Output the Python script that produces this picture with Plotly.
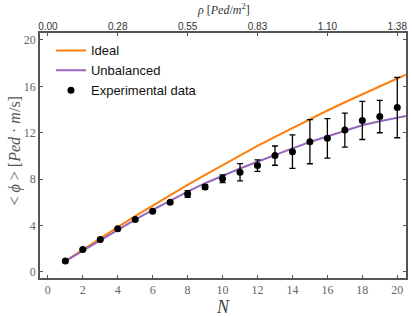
import plotly.graph_objects as go

# Data
N_exp = list(range(1, 21))
phi_exp = [0.94, 1.94, 2.8, 3.72, 4.52, 5.23, 6.0, 6.72, 7.32, 8.03,
           8.6, 9.17, 10.03, 10.37, 11.23, 11.52, 12.23, 13.06, 13.4, 14.17]
phi_err = [0.08, 0.08, 0.08, 0.1, 0.1, 0.1, 0.12, 0.28, 0.2, 0.33,
           0.74, 0.5, 0.83, 1.44, 1.9, 1.7, 1.47, 1.64, 1.4, 2.6]

N_model = list(range(1, 22))
phi_ideal = [0.94, 1.93, 2.91, 3.87, 4.81, 5.73, 6.63, 7.51, 8.38, 9.22,
             10.05, 10.86, 11.65, 12.42, 13.18, 13.92, 14.63, 15.33, 16.01, 16.68, 17.32]
phi_unbal = [0.94, 1.85, 2.75, 3.65, 4.52, 5.36, 6.15, 6.93, 7.65, 8.3,
             8.92, 9.5, 10.1, 10.65, 11.2, 11.7, 12.2, 12.65, 13.0, 13.32, 13.6]

x_ticks = list(range(0, 21, 2))
y_ticks = [0, 4, 8, 12, 16, 20]
rho_tick_pos = [0, 4, 8, 12, 16, 20]
rho_tick_text = ["0.00", "0.28", "0.55", "0.83", "1.10", "1.38"]

ORANGE = "#ff7f0e"
PURPLE = "#9467bd"
FRAME = "#555555"
SERIF = "Liberation Serif, DejaVu Serif, serif"
SANS = "Liberation Sans, Arial, sans-serif"

fig = go.Figure()
fig.add_trace(go.Scatter(x=N_model, y=phi_ideal, mode="lines", name="Ideal",
                         line=dict(color=ORANGE, width=2)))
fig.add_trace(go.Scatter(x=N_model, y=phi_unbal, mode="lines", name="Unbalanced",
                         line=dict(color=PURPLE, width=2)))
fig.add_trace(go.Scatter(x=N_exp, y=phi_exp, mode="markers", name="Experimental data",
                         marker=dict(color="black", size=7),
                         error_y=dict(type="data", array=phi_err, color="black",
                                      thickness=1.3, width=3)))
# invisible trace to carry the top axis
fig.add_trace(go.Scatter(x=N_exp, y=phi_exp, xaxis="x2", mode="markers",
                         marker=dict(opacity=0), showlegend=False, hoverinfo="skip"))

fig.update_layout(
    width=412, height=316,
    margin=dict(l=40, r=6, t=33, b=38, autoexpand=False),
    plot_bgcolor="white", paper_bgcolor="white",
    showlegend=True,
    legend=dict(x=0.03, y=0.99, xanchor="left", yanchor="top",
                bgcolor="rgba(255,255,255,0)", font=dict(family=SANS, size=13, color="#111"),
                itemwidth=30, tracegroupgap=0),
    xaxis=dict(range=[-0.45, 20.5], tickvals=x_ticks, ticks="inside", ticklen=3,
               tickcolor=FRAME, showline=True, linecolor=FRAME, linewidth=1.5,
               mirror=True, showgrid=False, zeroline=False, automargin=False,
               tickfont=dict(family=SERIF, size=12, color="#666")),
    xaxis2=dict(range=[-0.45, 20.5], overlaying="x", side="top", tickvals=rho_tick_pos,
                ticktext=rho_tick_text, ticks="inside", ticklen=3, tickcolor=FRAME,
                showgrid=False, zeroline=False, showline=False, automargin=False,
                tickfont=dict(family=SANS, size=10, color="#333")),
    yaxis=dict(range=[-0.52, 20.6], tickvals=y_ticks, ticks="inside", ticklen=3,
               tickcolor=FRAME, showline=True, linecolor=FRAME, linewidth=1.5,
               mirror="ticks", showgrid=False, zeroline=False, automargin=False,
               tickfont=dict(family=SERIF, size=12, color="#666")),
    annotations=[
        dict(text="<i>N</i>", x=0.5, y=0, xref="paper", yref="paper",
             xanchor="center", yanchor="top", yshift=-17, showarrow=False,
             font=dict(family=SERIF, size=18, color="#444")),
        dict(text="<i>ρ</i> [<i>Ped</i>/<i>m</i><sup>2</sup>]", x=0.5, y=1,
             xref="paper", yref="paper", xanchor="center", yanchor="bottom",
             yshift=14, showarrow=False, font=dict(family=SERIF, size=12, color="#333")),
        dict(text="&lt; <i>ϕ</i> &gt; [<i>Ped</i> · <i>m</i>/s]", x=0, y=0.5,
             xref="paper", yref="paper", xanchor="center", yanchor="middle",
             xshift=-26, yshift=4, textangle=-90, showarrow=False,
             font=dict(family=SERIF, size=16, color="#555")),
    ],
)

fig.write_html("out.html", config={"displayModeBar": False},
               post_script="document.body.style.margin='0';")
